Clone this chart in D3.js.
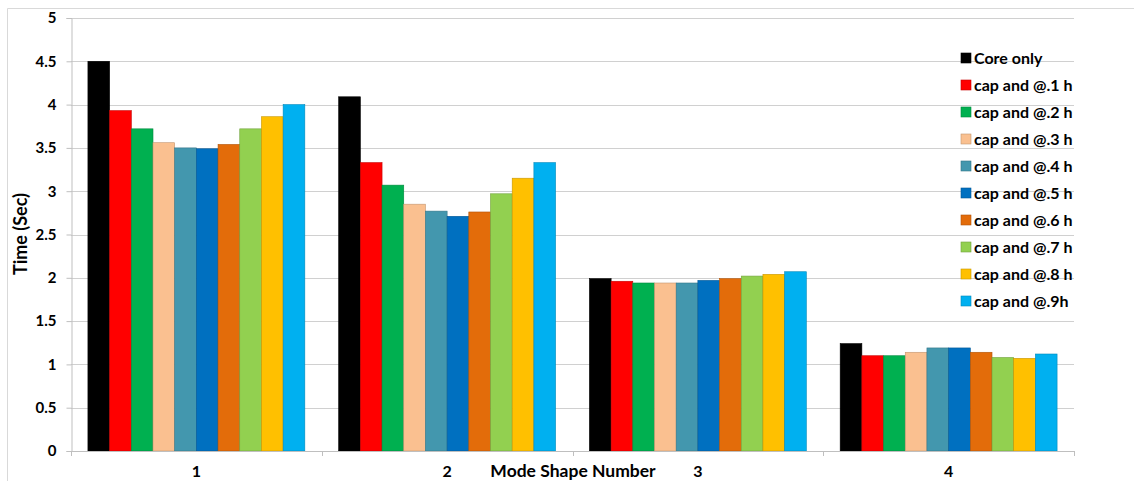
<!DOCTYPE html>
<html><head><meta charset="utf-8">
<script src="https://cdn.jsdelivr.net/npm/d3@7"></script>
<style>body{margin:0;background:#fff}svg{display:block}text{font-family:Lato,"Open Sans",sans-serif;font-weight:bold;fill:#000}</style>
</head><body><div id="chart"></div>
<script>
const categories = ["1","2","3","4"];
const seriesNames = ["Core only","cap and @.1 h","cap and @.2 h","cap and @.3 h","cap and @.4 h","cap and @.5 h","cap and @.6 h","cap and @.7 h","cap and @.8 h","cap and @.9h"];
const seriesColors = ["#000000","#FF0000","#00B050","#FAC090","#4397AE","#0070C0","#E36C0A","#92D050","#FFC000","#00B0F0"];
const coreOnly = [4.50, 4.09, 1.99, 1.24];
const cap01 = [3.93, 3.33, 1.96, 1.10];
const cap02 = [3.72, 3.07, 1.94, 1.10];
const cap03 = [3.56, 2.85, 1.94, 1.14];
const cap04 = [3.50, 2.77, 1.94, 1.19];
const cap05 = [3.49, 2.71, 1.97, 1.19];
const cap06 = [3.54, 2.76, 1.99, 1.14];
const cap07 = [3.72, 2.97, 2.02, 1.08];
const cap08 = [3.86, 3.15, 2.04, 1.07];
const cap09 = [4.00, 3.33, 2.07, 1.12];
const seriesValues = [coreOnly, cap01, cap02, cap03, cap04, cap05, cap06, cap07, cap08, cap09];
const yTicks = [0,0.5,1,1.5,2,2.5,3,3.5,4,4.5,5];

(function(){
const W = 1134, H = 481;
const svg = d3.select("#chart").append("svg").attr("width", W).attr("height", H);
svg.append("path").attr("d","M7.5,481 V8.5 H1134").attr("fill","none").attr("stroke","#d9d9d9");

const pLeft = 71, pRight = 1074, pTop = 18, pBottom = 451;
const y = d3.scaleLinear().domain([0,5]).range([pBottom, pTop]);
const x0 = d3.scaleBand().domain(categories).range([pLeft, pRight]).paddingInner(0.135).paddingOuter(0.0675);
const x1 = d3.scaleBand().domain(d3.range(seriesNames.length)).range([0, x0.bandwidth()]);

svg.append("g").selectAll("line").data(yTicks.filter(d=>d>0)).join("line")
  .attr("x1", pLeft).attr("x2", pRight).attr("y1", d=>Math.round(y(d))+0.5).attr("y2", d=>Math.round(y(d))+0.5)
  .attr("stroke","#d0d0d0").attr("stroke-width",1);

const yAxis = svg.append("g").attr("transform",`translate(${pLeft+0.5},0)`)
  .call(d3.axisLeft(y).tickValues(yTicks).tickSize(5).tickPadding(10).tickFormat(d3.format("")));
yAxis.select(".domain").attr("stroke","#bfbfbf");
yAxis.selectAll(".tick line").attr("stroke","#bfbfbf");
yAxis.selectAll("text").style("font-size","15px").attr("font-family",null);

const groups = svg.append("g").selectAll("g").data(categories).join("g")
  .attr("transform", d=>`translate(${x0(d)},0)`);
groups.selectAll("rect").data((c,ci)=>seriesValues.map((vals,si)=>({si, v: vals[ci]}))).join("rect")
  .attr("x", d=>x1(d.si)).attr("width", x1.bandwidth())
  .attr("y", d=>y(d.v)).attr("height", d=>y(0)-y(d.v))
  .attr("fill", d=>seriesColors[d.si])
  .attr("stroke", d=>d3.color(seriesColors[d.si]).darker(0.7)).attr("stroke-width",0.6);

const xEdge = d3.scaleLinear().domain([0, categories.length]).range([pLeft, pRight]);
const xAxisG = svg.append("g");
xAxisG.append("line").attr("x1", pLeft-2).attr("x2", pRight).attr("y1", pBottom+0.5).attr("y2", pBottom+0.5).attr("stroke","#bfbfbf");
xAxisG.selectAll("line.t").data(d3.range(categories.length+1)).join("line").attr("class","t")
  .attr("x1", d=>Math.round(xEdge(d))+0.5).attr("x2", d=>Math.round(xEdge(d))+0.5)
  .attr("y1", pBottom).attr("y2", pBottom+5).attr("stroke","#bfbfbf");
xAxisG.selectAll("text").data(categories).join("text")
  .attr("x", d=>x0(d)+x0.bandwidth()/2).attr("y", 477).attr("text-anchor","middle")
  .style("font-size","16px").text(d=>d);

svg.append("text").attr("x", 573).attr("y", 477).attr("text-anchor","middle").style("font-size","17.5px").text("Mode Shape Number");
svg.append("text").attr("transform","translate(27,234) rotate(-90)").attr("text-anchor","middle").style("font-size","18px").text("Time (Sec)");

const lg = svg.append("g").selectAll("g").data(seriesNames).join("g")
  .attr("transform",(d,i)=>`translate(961,${58+i*27})`);
lg.append("rect").attr("x",0).attr("y",-5).attr("width",10).attr("height",10)
  .attr("fill",(d,i)=>seriesColors[i]).attr("stroke",(d,i)=>d3.color(seriesColors[i]).darker(0.7)).attr("stroke-width",0.6);
lg.append("text").attr("x",13).attr("y",0).attr("dy","0.35em").style("font-size","16px").text(d=>d);
})();
</script></body></html>
